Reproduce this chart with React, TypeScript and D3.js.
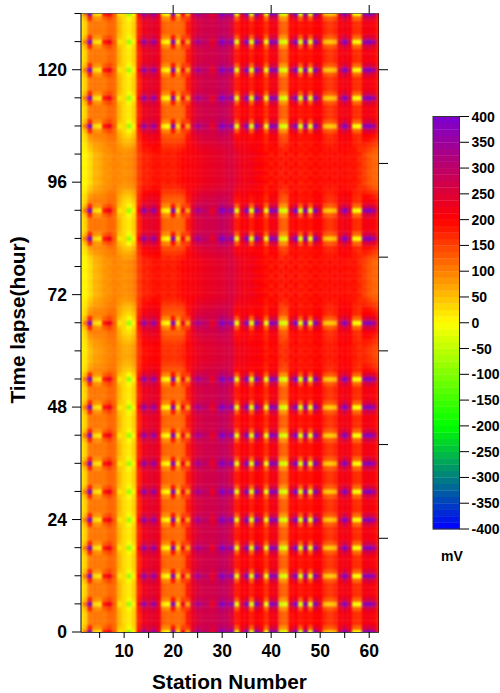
import React from "react";
import * as d3 from "d3";

const stations = [1,2,3,4,5,6,7,8,9,10,11,12,13,14,15,16,17,18,19,20,21,22,23,24,25,26,27,28,29,30,31,32,33,34,35,36,37,38,39,40,41,42,43,44,45,46,47,48,49,50,51,52,53,54,55,56,57,58,59,60,61,62];
const normalProfile = [8,35,105,110,108,105,120,115,60,28,15,40,175,225,235,240,225,125,118,120,118,125,185,232,258,268,272,268,278,288,282,250,182,205,210,180,210,195,165,215,220,130,125,192,202,185,192,185,202,205,172,158,172,210,220,210,168,162,215,220,205,180];
const dotProfile = [10,110,385,30,20,185,225,130,20,30,-80,10,200,375,275,365,245,15,0,385,20,230,70,265,345,300,295,225,300,395,330,375,-20,250,385,-30,385,270,-10,380,360,-40,-20,270,395,-30,380,-20,385,250,50,40,55,260,395,270,-10,0,360,385,340,180];
const quietProfileA = [10,5,25,55,65,80,90,95,95,85,90,100,150,175,180,185,190,175,185,175,190,195,205,210,215,225,230,235,240,245,255,255,240,225,220,225,215,210,195,180,198,175,195,180,198,175,190,180,198,185,192,188,195,190,195,190,185,175,150,130,125,120];
const quietProfileB = [12,8,30,60,70,85,85,100,90,90,95,105,155,180,175,190,185,180,180,180,185,200,208,205,220,220,235,230,245,240,250,260,235,230,215,220,205,198,185,195,185,190,180,195,185,190,180,195,185,195,185,195,185,195,190,185,190,165,155,135,120,115];
const quietWeight = [0,0,0,0,0,0,0,0,0,0,0,0,0,0,0,0,0,0,0,0,0,0,0,0,0,0,0,0,0,0,0,0,0,0,0,0,0,0,0,0,0,0,0,0,0,0,0,0,0,0,0,0,0,0,0,0.1,0.3,0.5,0.65,0.7,0.7,0.65,0.5,0.3,0.1,0,0,0.05,0.2,0.4,0.65,0.85,1,1,1,1,1,1,1,1,0.85,0.6,0.35,0.1,0,0,0,0,0,0,0,0,0.1,0.3,0.6,0.85,1,1,1,1,1,1,1,0.85,0.65,0.4,0.2,0.05,0,0,0,0,0,0,0,0,0,0,0,0,0,0,0,0,0,0,0,0,0,0,0,0,0,0];
const dotHours = [0,6,12,18,24,30,36,42,48,54,66,84,90,108,114,120,126,132];
const xMajorTicks = [10,20,30,40,50,60];
const xMinorTicks = [5,15,25,35,45,55];
const topTicks = [20,40,60];
const yLeftTicks = [0,6,12,18,24,30,36,42,48,54,60,66,72,78,84,90,96,102,108,114,120,126,132];
const yLabels = [0,24,48,72,96,120];
const yRightTicks = [20,40,60,80,100,120];
const legendLabels = [400,350,300,250,200,150,100,50,0,-50,-100,-150,-200,-250,-300,-350,-400];

const W = 500, H = 693;
const FONT = "'Liberation Sans', Arial, sans-serif";
const x = d3.scaleLinear().domain([1.2, 62]).range([81, 379]);
const y = d3.scaleLinear().domain([0, 132]).range([632, 13.5]);
const color = d3.scaleLinear<string>()
  .domain([-400, -200, 0, 200, 400])
  .range(["#0000ff", "#00ff00", "#ffff00", "#ff0000", "#7a00d0"])
  .clamp(true);
const legendY = d3.scaleLinear().domain([-400, 400]).range([529, 116.5]);
const legendLevels = d3.range(-400, 400, 12.5);

function rowValues(h: number, w: number) {
  const quiet = h % 2 === 0 ? quietProfileA : quietProfileB;
  const isDot = dotHours.includes(h);
  const nearDot = dotHours.includes(h - 1) || dotHours.includes(h + 1);
  const d = isDot ? 1 : nearDot ? 0.25 : 0;
  return stations.map((_, i) => {
    const base = normalProfile[i] * (1 - w) + quiet[i] * w;
    return base * (1 - d) + dotProfile[i] * d;
  });
}

export default function App() {
  const cw = x(2) - x(1), ch = y(0) - y(1);
  const hours = quietWeight.map((_, h) => h);
  return (
    <svg width={W} height={H} style={{ position: "absolute", left: 0, top: 0, fontFamily: FONT, fontWeight: 700 }}>
      <defs>
        <clipPath id="plot"><rect x={81} y={13.5} width={298} height={618.5} /></clipPath>
        <filter id="soft" filterUnits="userSpaceOnUse" x={60} y={0} width={340} height={650} colorInterpolationFilters="sRGB">
          <feGaussianBlur stdDeviation={1.0} />
        </filter>
      </defs>
      <g clipPath="url(#plot)">
        <g filter="url(#soft)">
          {hours.map((h) => {
            const vals = rowValues(h, quietWeight[h]);
            const top = h === 132 ? y(h) - ch * 3 : y(h) - ch / 2;
            const bottom = h === 0 ? y(h) + ch * 3 : y(h) + ch / 2;
            return stations.map((s, i) => {
              const left = i === 0 ? x(s) - cw * 3 : x(s) - cw / 2;
              const right = i === stations.length - 1 ? x(s) + cw * 3 : x(s) + cw / 2;
              return (
                <rect key={`${h}-${s}`} x={left} y={top} width={right - left + 0.3} height={bottom - top + 0.3} fill={color(vals[i])} />
              );
            });
          })}
        </g>
      </g>
      {/* frame */}
      <line x1={81} x2={81} y1={13.5} y2={632} stroke="#000" />
      <line x1={81} x2={379} y1={632.5} y2={632.5} stroke="#000" strokeOpacity={0.75} />
      <line x1={81} x2={379} y1={13.5} y2={13.5} stroke="#000" strokeOpacity={0.5} />
      <line x1={378.5} x2={378.5} y1={13.5} y2={632} stroke="#000" strokeOpacity={0.5} />
      {/* ticks */}
      {yLeftTicks.map((t) => (
        <line key={t} x1={yLabels.includes(t) ? 72 : 74.5} x2={81} y1={y(t)} y2={y(t)} stroke="#000" />
      ))}
      {yRightTicks.map((t) => (
        <line key={t} x1={379} x2={388} y1={y(t)} y2={y(t)} stroke="#000" />
      ))}
      {topTicks.map((t) => (
        <line key={t} x1={x(t)} x2={x(t)} y1={5} y2={13.5} stroke="#000" />
      ))}
      {[...xMajorTicks, ...xMinorTicks].map((t) => (
        <line key={t} x1={x(t)} x2={x(t)} y1={632} y2={638} stroke="#000" />
      ))}
      {xMajorTicks.map((t) => (
        <text key={t} x={x(t)} y={657} textAnchor="middle" fontSize={17.5}>{t}</text>
      ))}
      {yLabels.map((t) => (
        <text key={t} x={67} y={y(t) + 6} textAnchor="end" fontSize={17.5}>{t}</text>
      ))}
      <text x={229.5} y={689} textAnchor="middle" fontSize={20.8}>Station Number</text>
      <text transform="translate(25,320) rotate(-90)" textAnchor="middle" fontSize={20.8}>Time lapse(hour)</text>
      {/* colour bar */}
      {legendLevels.map((v) => (
        <rect key={v} x={433} width={26.5} y={legendY(v + 12.5)} height={legendY(v) - legendY(v + 12.5) + 0.3} fill={color(v + 6.25)} />
      ))}
      <rect x={433} y={116.5} width={26.5} height={412.5} fill="none" stroke="#333" />
      {legendLabels.map((v) => (
        <g key={v}>
          <line x1={459.5} x2={469} y1={legendY(v)} y2={legendY(v)} stroke="#000" />
          <text x={471.5} y={legendY(v) + 5} fontSize={14}>{v}</text>
        </g>
      ))}
      <text x={441} y={561} fontSize={14}>mV</text>
    </svg>
  );
}
